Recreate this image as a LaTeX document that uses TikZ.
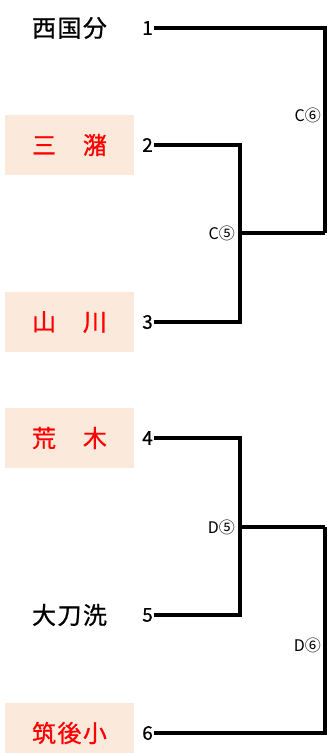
\documentclass[tikz,border=0pt]{standalone}
\usepackage{fontspec}
\setmainfont{Noto Sans CJK JP}
\newfontfamily\jpname[LetterSpace=6,FakeBold=0.8]{Noto Sans CJK JP}
\newfontfamily\jpnum[FakeBold=0.6]{Noto Sans CJK JP}
\usepackage{tikz}
\usetikzlibrary{positioning}
\definecolor{seedbg}{HTML}{FBE9DC}
\definecolor{seedred}{HTML}{FF0000}
\tikzset{
team/.style={minimum width=129pt, minimum height=60pt, inner sep=0pt, font=\fontsize{24}{24}\selectfont\jpname},
seed/.style={team, fill=seedbg, text=seedred},
num/.style={inner sep=1pt, font=\fontsize{19}{19}\selectfont\jpnum},
game/.style={inner sep=1pt, font=\fontsize{16}{16}\selectfont},
bracket/.style={line width=4pt, line join=miter},
}

\begin{document}
\begin{tikzpicture}[x=1pt, y=-1pt]
        \useasboundingbox (0,0) rectangle (327,753);
        % teams
        \node[team] at (69.5,28) (t1) {西国分};
        \node[seed] at (69.5,145) (t2) {三　潴};
        \node[seed] at (69.5,322) (t3) {山　川};
        \node[seed] at (69.5,438) (t4) {荒　木};
        \node[team] at (69.5,615) (t5) {大刀洗};
        \node[seed] at (69.5,733) (t6) {筑後小};
        % draw numbers
        \node[num, anchor=east] at (154,28) (n1) {1};
        \node[num, anchor=east] at (154,145) (n2) {2};
        \node[num, anchor=east] at (154,322) (n3) {3};
        \node[num, anchor=east] at (154,438) (n4) {4};
        \node[num, anchor=east] at (154,615) (n5) {5};
        \node[num, anchor=east] at (154,733) (n6) {6};
        % joints
        \coordinate (c5) at (240,233);
        \coordinate (c6) at (325,233);
        \coordinate (d5) at (240,527);
        \coordinate (d6) at (325,527);
        \node[game, anchor=east] at (322,115) (g6) {C⑥};
        \node[game, anchor=east] at (236,233) (g5) {C⑤};
        \node[game, anchor=east] at (236,527) (h5) {D⑤};
        \node[game, anchor=east] at (322,645) (h6) {D⑥};
        \draw[bracket]
        (n1.east) -| (c6)
        (n2.east) -| (c5)
        (n3.east) -| (c5)
        (c5) -- (c6)
        (n4.east) -| (d5)
        (n5.east) -| (d5)
        (d5) -- (d6)
        (n6.east) -| (d6)
        ;
\end{tikzpicture}
\end{document}
